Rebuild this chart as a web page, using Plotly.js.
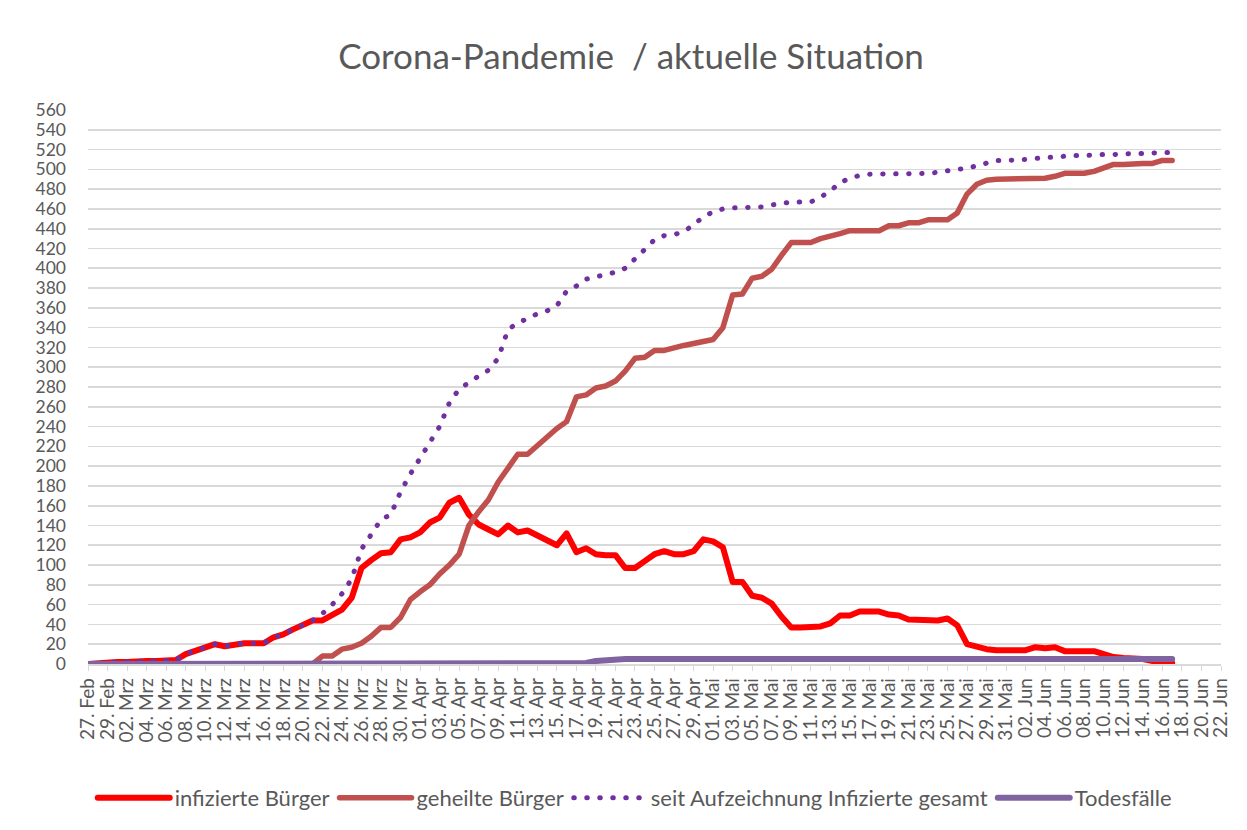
<!DOCTYPE html>
<html>
<head>
<meta charset="utf-8">
<script src="https://cdn.plot.ly/plotly-3.0.1.min.js"></script>
<style>
  html, body { margin: 0; padding: 0; background: #ffffff; }
  #chart { width: 1247px; height: 830px; }
</style>
</head>
<body>
<div id="chart"></div>
<script>
// ---- data (daily values from 27 Feb 2020) ----
const startDate = '2020-02-27';

const infizierte = [
  0, 1, 1, 2, 2, 3, 3, 3, 4, 4,
  10, 13, 16, 20, 18, 20, 21, 21, 21, 27,
  30, 35, 39, 44, 44, 50, 55, 67, 97, 105,
  112, 113, 126, 128, 133, 143, 148, 163, 168, 151,
  141, 136, 131, 140, 133, 135, 130, 125, 120, 132,
  113, 117, 111, 110, 110, 97, 97, 104, 111, 114,
  111, 111, 114, 126, 124, 118, 83, 83, 69, 67,
  61, 48, 37, 37, 37, 38, 41, 49, 49, 53,
  53, 53, 50, 49, 45, 45, 44, 44, 46, 39,
  20, 17, 15, 14, 14, 14, 14, 17, 16, 17,
  13, 13, 13, 13, 10, 7, 6, 6, 5, 3,
  2, 1
];

const geheilte = [
  0, 0, 0, 0, 0, 0, 0, 0, 0, 0,
  0, 0, 0, 0, 0, 0, 0, 0, 0, 0,
  0, 0, 0, 0, 8, 8, 15, 17, 21, 28,
  37, 37, 47, 65, 73, 80, 91, 100, 111, 140,
  154, 166, 184, 199, 212, 212, 221, 230, 238, 245,
  270, 272, 279, 281, 286, 296, 309, 310, 317, 317,
  320, 322, 324, 326, 328, 340, 373, 374, 390, 392,
  399, 413, 426, 426, 426, 430, 432, 435, 438, 438,
  438, 438, 443, 443, 446, 446, 449, 449, 449, 456,
  475, 485, 489, 490, 490, 490, 490, 490, 491, 493,
  496, 496, 496, 498, 501, 505, 505, 506, 506, 506,
  509, 509
];

const gesamt = [
  0, 1, 1, 2, 2, 3, 3, 3, 4, 4,
  10, 13, 16, 20, 18, 20, 21, 21, 21, 27,
  30, 35, 39, 44, 51, 60, 71, 86, 116, 130,
  146, 151, 174, 192, 207, 224, 240, 264, 278, 285,
  291, 297, 309, 338, 345, 349, 354, 357, 362, 377,
  382, 389, 391, 393, 396, 400, 409, 419, 429, 433,
  434, 437, 444, 452, 457, 460, 461, 461, 462, 462,
  464, 466, 467, 467, 467, 472, 478, 487, 491, 494,
  495, 495, 495, 496, 496, 496, 496, 497, 499, 500,
  501, 504, 507, 509, 509, 509, 510, 511, 512, 513,
  514, 514, 514, 515, 515, 515, 516, 516, 516, 517,
  517, 517
];

const todesfaelle = [
  0, 0, 0, 0, 0, 0, 0, 0, 0, 0,
  0, 0, 0, 0, 0, 0, 0, 0, 0, 0,
  0, 0, 0, 0, 0, 0, 0, 0, 0, 0,
  0, 0, 0, 0, 0, 0, 0, 0, 0, 0,
  0, 0, 0, 0, 0, 0, 0, 0, 0, 0,
  0, 1, 3, 4, 5, 5, 5, 5, 5, 5,
  5, 5, 5, 5, 5, 5, 5, 5, 5, 5,
  5, 5, 5, 5, 5, 5, 5, 5, 5, 5,
  5, 5, 5, 5, 5, 5, 5, 5, 5, 5,
  5, 5, 5, 5, 5, 5, 5, 5, 5, 5,
  5, 5, 5, 5, 5, 5, 5, 5, 5, 5,
  5, 5
];

const seriesNames = ['infizierte Bürger', 'geheilte Bürger', 'seit Aufzeichnung Infizierte gesamt', 'Todesfälle'];
const shortMonths = ['Jan', 'Feb', 'Mrz', 'Apr', 'Mai', 'Jun', 'Jul', 'Aug', 'Sep', 'Okt', 'Nov', 'Dez'];
const longMonths = ['Januar', 'Februar', 'März', 'April', 'Mai', 'Juni', 'Juli', 'August', 'September', 'Oktober', 'November', 'Dezember'];
const axisRange = ['2020-02-27', '2020-06-22'];
const yRange = [0, 560];

// ---- category dates ----
function dayList(start, n) {
  const out = [];
  const t0 = Date.parse(start + 'T00:00:00Z');
  for (let i = 0; i < n; i++) {
    out.push(new Date(t0 + i * 86400000).toISOString().slice(0, 10));
  }
  return out;
}
const dates = dayList(startDate, infizierte.length);

Plotly.register({
  moduleType: 'locale',
  name: 'de-xl',
  dictionary: {},
  format: {
    days: ['Sonntag', 'Montag', 'Dienstag', 'Mittwoch', 'Donnerstag', 'Freitag', 'Samstag'],
    shortDays: ['So', 'Mo', 'Di', 'Mi', 'Do', 'Fr', 'Sa'],
    months: longMonths,
    shortMonths: shortMonths,
    date: '%d.%m.%Y',
    decimal: ',',
    thousands: '.'
  }
});

const FONT = 'Lato, "Open Sans", sans-serif';
const GREY = '#595959';

const traces = [
  { x: dates, y: infizierte, name: seriesNames[0], type: 'scatter', mode: 'lines',
    line: { color: '#FF0000', width: 6 } },
  { x: dates, y: geheilte, name: seriesNames[1], type: 'scatter', mode: 'lines',
    line: { color: '#C0504D', width: 5.5 } },
  { x: dates, y: gesamt, name: seriesNames[2], type: 'scatter', mode: 'lines',
    line: { color: '#7030A0', width: 5, dash: '0.5px,12.5px' } },
  { x: dates, y: todesfaelle, name: seriesNames[3], type: 'scatter', mode: 'lines',
    line: { color: '#8064A2', width: 6 } }
];

const layout = {
  width: 1247,
  height: 830,
  paper_bgcolor: '#ffffff',
  plot_bgcolor: '#ffffff',
  margin: { l: 88, r: 26, t: 110, b: 166, pad: 0 },
  font: { family: FONT, color: GREY, size: 17 },
  title: {
    text: 'Corona-Pandemie\u00A0 / aktuelle Situation',
    font: { family: FONT, size: 35, color: GREY },
    x: 0.506, xref: 'container', xanchor: 'center',
    y: 1 - 57 / 830, yref: 'container', yanchor: 'middle'
  },
  xaxis: {
    type: 'date',
    range: axisRange,
    tick0: axisRange[0],
    dtick: 2 * 86400000,
    tickformat: '%d. %b',
    tickangle: -90,
    ticks: 'outside',
    ticklen: 5,
    tickwidth: 1,
    tickcolor: '#D9D9D9',
    showline: true,
    linecolor: '#D9D9D9',
    linewidth: 1.5,
    showgrid: false,
    zeroline: false,
    tickfont: { family: FONT, size: 19, color: GREY },
    automargin: false,
    fixedrange: true
  },
  yaxis: {
    range: yRange,
    tick0: 0,
    dtick: 20,
    showgrid: true,
    gridcolor: '#D9D9D9',
    gridwidth: 1.6,
    zeroline: false,
    showline: false,
    ticks: '',
    ticklabelstandoff: 21,
    tickfont: { family: FONT, size: 17.5, color: GREY },
    automargin: false,
    fixedrange: true
  },
  showlegend: true,
  legend: {
    orientation: 'h',
    x: 0.509, xref: 'container', xanchor: 'center',
    y: 1 - 798 / 830, yref: 'container', yanchor: 'middle',
    font: { family: FONT, size: 22, color: GREY },
    itemwidth: 72,
    traceorder: 'normal',
    bgcolor: 'rgba(0,0,0,0)'
  }
};

const gd = document.getElementById('chart');
Plotly.newPlot(gd, traces, layout, { staticPlot: true, displayModeBar: false, locale: 'de-xl' })
  .then(function () {
    // let lines overflow the plot edge like the original (round caps, no clipping)
    gd.querySelectorAll('.cartesianlayer .plot').forEach(function (g) { g.removeAttribute('clip-path'); });
    gd.querySelectorAll('.scatterlayer .js-line, .legendlines path').forEach(function (p) {
      p.style.strokeLinecap = 'round';
      p.style.strokeLinejoin = 'round';
    });
  });
</script>
</body>
</html>
